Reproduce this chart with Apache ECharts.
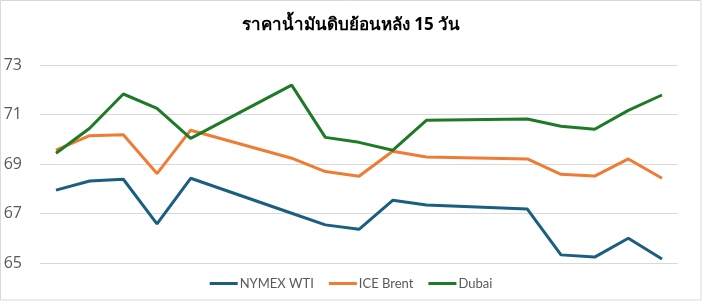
<!DOCTYPE html>
<html>
<head>
<meta charset="utf-8">
<script src="https://cdn.jsdelivr.net/npm/echarts@6/dist/echarts.min.js"></script>
<style>html,body{margin:0;padding:0;background:#fff}#c{width:702px;height:301px}</style>
</head>
<body>
<div id="c"></div>
<script>
// day offsets of each trading day (weekends skipped)
const dayIndex = [0,1,2,3,4,7,8,9,10,11,14,15,16,17,18];
const seriesNames = ['NYMEX WTI','ICE Brent','Dubai'];
const wti   = [67.95,68.32,68.39,66.59,68.43,67.02,66.55,66.37,67.54,67.35,67.19,65.34,65.25,66.01,65.17];
const brent = [69.57,70.15,70.19,68.62,70.37,69.24,68.70,68.51,69.52,69.29,69.21,68.59,68.52,69.21,68.43];
const dubai = [69.44,70.45,71.83,71.25,70.04,72.19,70.08,69.88,69.56,70.77,70.82,70.53,70.41,71.17,71.79];
const yTicks = [65,67,69,71,73];
const titleText = 'ราคาน้ำมันดิบย้อนหลัง 15 วัน';

const colors = ['#1a5e80','#ef7b34','#1e7a26'];
const pair = arr => arr.map((v,i)=>[dayIndex[i], v]);
const chart = echarts.init(document.getElementById('c'), null, {renderer:'canvas'});
chart.setOption({
  animation:false,
  backgroundColor:'#fff',
  color: colors,
  title:{text:titleText,left:'center',top:12,
    textStyle:{fontFamily:'Tahoma, "Noto Sans", sans-serif',fontSize:17,fontWeight:'bold',color:'#000'}},
  graphic:[{type:'rect',shape:{x:0.5,y:0.5,width:700.5,height:299.5},
    style:{fill:'none',stroke:'#d9d9d9',lineWidth:1},silent:true}],
  legend:{data:seriesNames,left:'center',top:272,icon:'rect',itemWidth:28,itemHeight:3,itemGap:15,
    textStyle:{fontFamily:'Lato, "Open Sans", sans-serif',fontSize:13,color:'#595959',padding:[0,0,0,-3]}},
  grid:{left:40,right:24,top:65,bottom:37.7},
  xAxis:{type:'value',min:-0.475,max:18.475,show:false,splitLine:{show:false}},
  yAxis:{type:'value',min:yTicks[0],max:yTicks[yTicks.length-1],interval:2,
    axisLine:{show:false},axisTick:{show:false},
    axisLabel:{fontFamily:'"Open Sans", sans-serif',fontSize:16,color:'#595959',margin:18},
    splitLine:{lineStyle:{color:'#d9d9d9',width:1}}},
  series:[
    {name:seriesNames[0],type:'line',data:pair(wti),showSymbol:false,lineStyle:{width:3},z:3},
    {name:seriesNames[1],type:'line',data:pair(brent),showSymbol:false,lineStyle:{width:3},z:4},
    {name:seriesNames[2],type:'line',data:pair(dubai),showSymbol:false,lineStyle:{width:3},z:5}
  ]
});
</script>
</body>
</html>
